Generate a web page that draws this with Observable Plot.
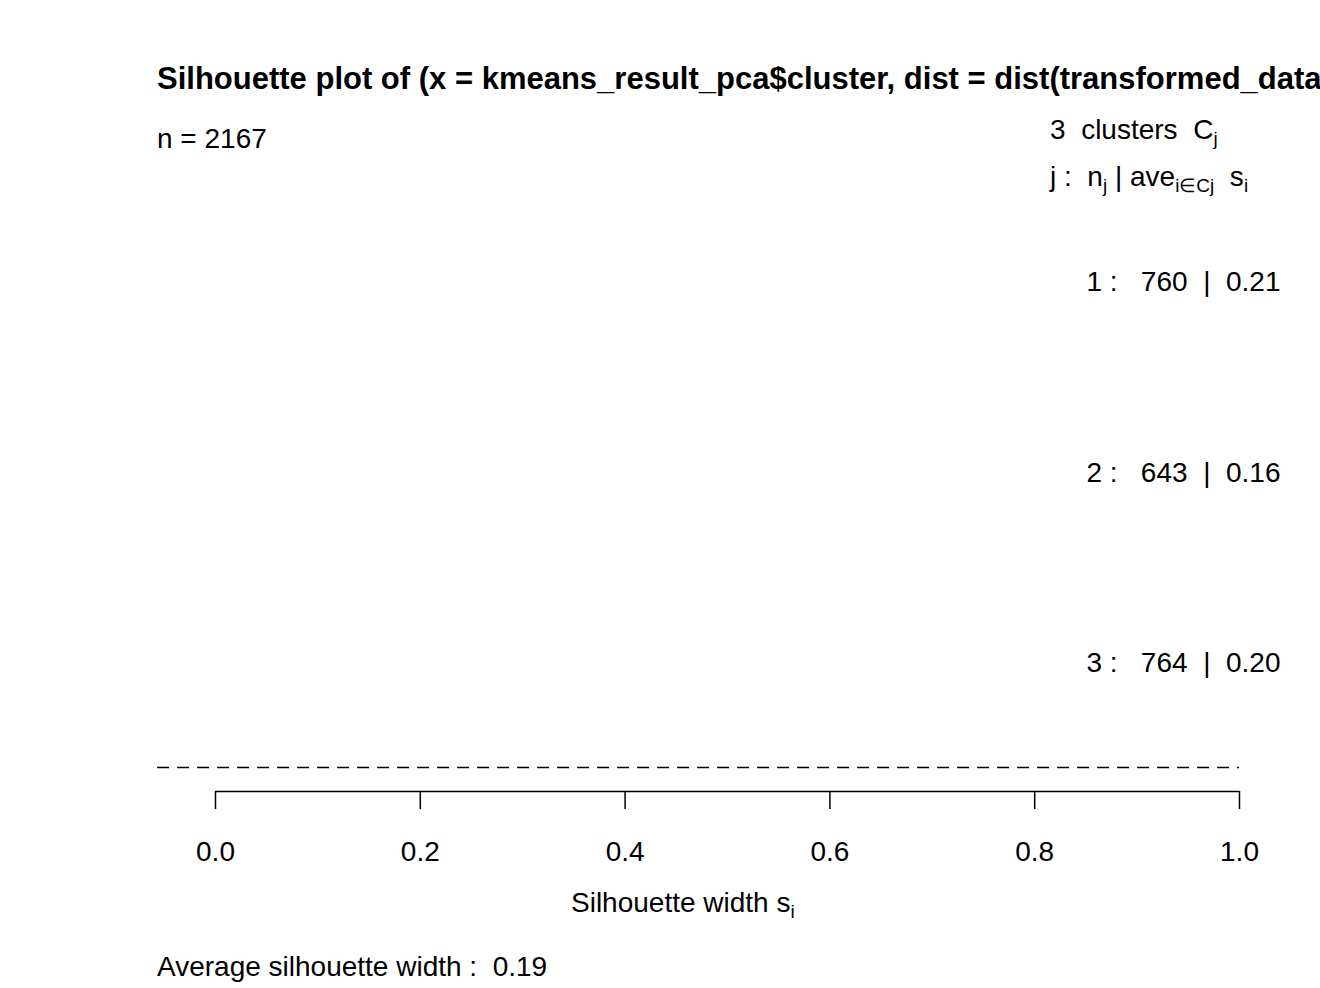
<!DOCTYPE html>
<html><head><meta charset="utf-8">
<script src="https://cdn.jsdelivr.net/npm/d3@7"></script>
<script src="https://cdn.jsdelivr.net/npm/@observablehq/plot@0.6"></script>
<style>
body{margin:0;background:#fff;font-family:"Liberation Sans",Arial,sans-serif;}
#wrap{position:relative;width:1320px;height:988px;overflow:hidden;}
.t{position:absolute;white-space:nowrap;font-size:28px;color:#000;line-height:1;}
sub{font-size:19px;vertical-align:-6px;line-height:0;}
</style></head>
<body><div id="wrap"></div>
<script>
const clusters = [1, 2, 3]
const sizes = [760, 643, 764]
const aveWidth = [0.21, 0.16, 0.20]
const ticks = [0, 0.2, 0.4, 0.6, 0.8, 1.0]
const avgAll = 0.19
const nTotal = 2167

const labels = clusters.map((j, i) => ({j, label: `${j} :   ${sizes[i]}  |  ${aveWidth[i].toFixed(2)}`}))

let chart = Plot.plot({
  width: 1320, height: 988,
  marginLeft: 215, marginRight: 81, marginTop: 91.5, marginBottom: 197,
  x: {domain: [0, 1], ticks: ticks, tickFormat: d3.format(".1f"), label: null},
  y: {domain: [0, 3.672], reverse: true, axis: null},
  style: {fontFamily: "Liberation Sans, Arial, sans-serif", fontSize: "28px", color: "#000", overflow: "visible"},
  marks: [
    Plot.axisX({ticks: ticks, tickFormat: d3.format(".1f"), tickSize: 18, tickPadding: 32, fontSize: 28, label: null, strokeWidth: 1.5}),
    Plot.ruleY([3.672], {x1: 0, x2: 1, strokeWidth: 1.5}),
    Plot.ruleY([3.546], {x1: -0.0566, x2: 1, strokeDasharray: "12,8", strokeWidth: 1.5}),
    Plot.text(labels, {x: 1.04, y: "j", text: "label", textAnchor: "end", fontSize: 28})
  ]
})
chart.style.position = "absolute"; chart.style.left = "0"; chart.style.top = "0"
const wrap = document.getElementById("wrap")
wrap.append(chart)

const add = (html, x, y, extra = "") => {
  const d = document.createElement("div")
  d.className = "t"; d.innerHTML = html
  d.style.left = x + "px"; d.style.top = y + "px"; d.style.cssText += extra
  wrap.append(d)
}
add("Silhouette plot of (x = kmeans_result_pca$cluster, dist = dist(transformed_data))", 157, 63, "font-weight:bold;font-size:31px;")
add(`n = ${nTotal}`, 157, 125)
add("3&nbsp; clusters&nbsp; C<sub>j</sub>", 1050, 116)
add("j :&nbsp; n<sub>j</sub> | ave<sub>i∈Cj</sub>&nbsp; s<sub>i</sub>", 1050, 163)
add("Silhouette width s<sub>i</sub>", 571, 889)
add(`Average silhouette width :&nbsp; ${avgAll.toFixed(2)}`, 157, 953)
</script></body></html>
